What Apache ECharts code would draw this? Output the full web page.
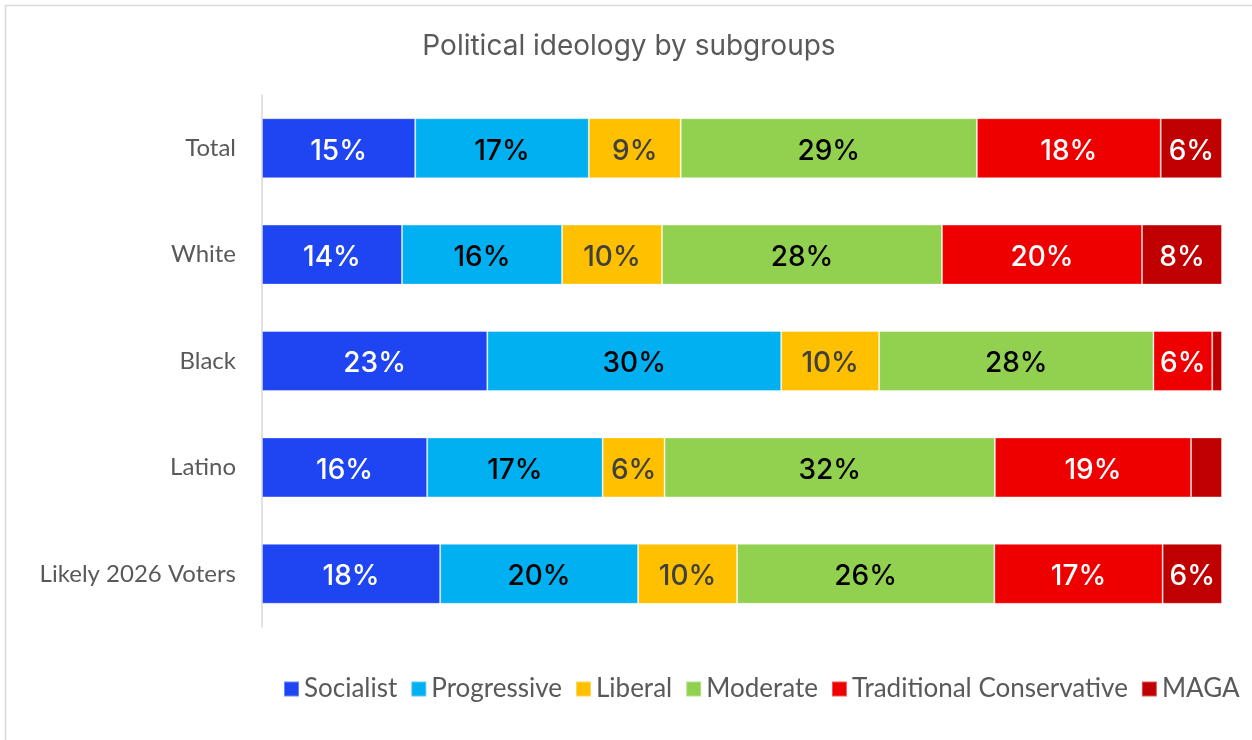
<!DOCTYPE html>
<html>
<head>
<meta charset="utf-8">
<script src="https://cdn.jsdelivr.net/npm/echarts@6/dist/echarts.min.js"></script>
<style>html,body{margin:0;padding:0;background:#fff}#c{width:1252px;height:740px}</style>
</head>
<body>
<div id="c"></div>
<script>
const categories = ['Total', 'White', 'Black', 'Latino', 'Likely 2026 Voters'];
const seriesNames = ['Socialist', 'Progressive', 'Liberal', 'Moderate', 'Traditional Conservative', 'MAGA'];
const socialist = [15, 14, 23, 16, 18];
const progressive = [17, 16, 30, 17, 20];
const liberal = [9, 10, 10, 6, 10];
const moderate = [29, 28, 28, 32, 26];
const tradConservative = [18, 20, 6, 19, 17];
const maga = [6, 8, 1, 3, 6];

const allValues = [socialist, progressive, liberal, moderate, tradConservative, maga];
const colors = ['#1F45F3', '#00B0F0', '#FFC000', '#92D050', '#EE0000', '#C00000'];
const labelColors = ['#ffffff', '#000000', '#404040', '#000000', '#ffffff', '#ffffff'];

const rowSums = categories.map((c, i) => allValues.reduce((s, arr) => s + arr[i], 0));

const series = allValues.map((arr, si) => ({
  name: seriesNames[si],
  type: 'bar',
  stack: 'total',
  barWidth: 60,
  itemStyle: { color: colors[si], borderColor: 'rgba(255,255,255,0.35)', borderWidth: 1 },
  label: {
    show: true,
    position: 'inside',
    offset: [0, 3],
    color: labelColors[si],
    fontFamily: 'Inter',
    fontWeight: 500,
    fontSize: 28,
    formatter: p => p.data.raw >= 4 ? p.data.raw + '%' : ''
  },
  emphasis: { disabled: true },
  data: arr.map((v, i) => ({ value: v / rowSums[i] * 100, raw: v }))
}));

const chart = echarts.init(document.getElementById('c'), null, { renderer: 'canvas' });
chart.setOption({
  animation: false,
  backgroundColor: '#ffffff',
  title: {
    text: 'Political ideology by subgroups',
    left: 624, top: 28, textAlign: 'center',
    textStyle: { fontFamily: 'Inter', fontWeight: 'normal', fontSize: 28, color: '#595959' }
  },
  graphic: [{
    type: 'rect', silent: true,
    shape: { x: 5.5, y: 5.5, width: 1280, height: 800 },
    style: { fill: 'none', stroke: '#D9D9D9', lineWidth: 1.5 }
  }],
  legend: {
    data: seriesNames,
    top: 671, left: 278,
    icon: 'rect', itemWidth: 15, itemHeight: 15, itemGap: 13,
    textStyle: { fontFamily: 'Lato', fontSize: 26, color: '#595959' }
  },
  grid: { left: 262, right: 30, top: 95, height: 532, containLabel: false },
  xAxis: { type: 'value', min: 0, max: 100, show: false },
  yAxis: {
    type: 'category', data: categories, inverse: true,
    axisLine: { show: true, lineStyle: { color: '#D9D9D9', width: 1.5 } },
    axisTick: { show: false },
    axisLabel: { fontFamily: 'Lato', fontSize: 24, color: '#595959', margin: 26, align: 'right' }
  },
  series: series
});
</script>
</body>
</html>
